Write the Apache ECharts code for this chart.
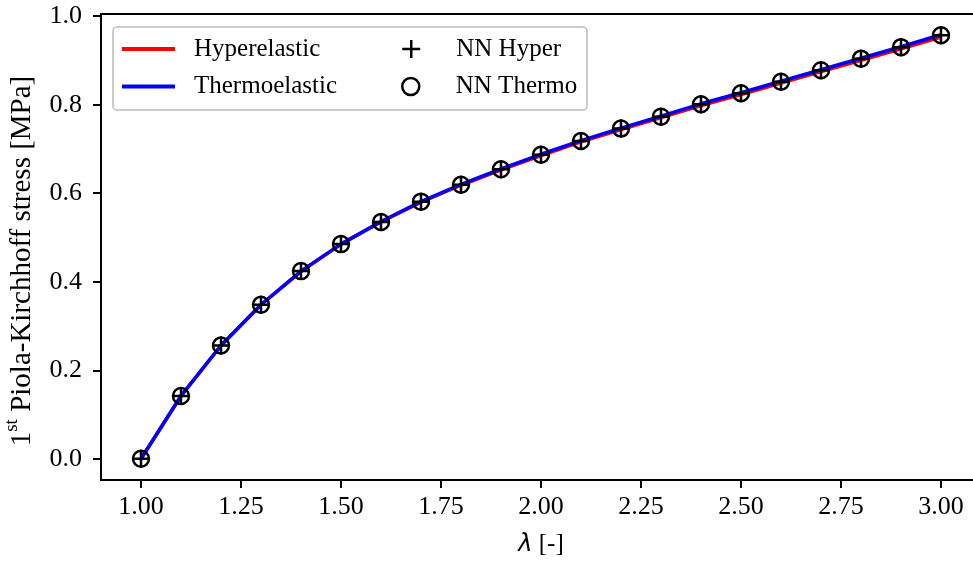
<!DOCTYPE html>
<html>
<head>
<meta charset="utf-8">
<script src="https://cdn.jsdelivr.net/npm/echarts@6/dist/echarts.min.js"></script>
<style>html,body{margin:0;padding:0;background:#fff}#c{width:973px;height:562px}</style>
</head>
<body>
<div id="c"></div>
<script>
const lambda = [1.0,1.1,1.2,1.3,1.4,1.5,1.6,1.7,1.8,1.9,2.0,2.1,2.2,2.3,2.4,2.5,2.6,2.7,2.8,2.9,3.0];
const hyper  = [0,0.142,0.256,0.348,0.423,0.485,0.535,0.580,0.618,0.653,0.685,0.716,0.744,0.771,0.798,0.823,0.849,0.875,0.900,0.926,0.953];
const thermo = [0,0.142,0.256,0.348,0.424,0.485,0.536,0.581,0.620,0.655,0.688,0.719,0.747,0.774,0.802,0.827,0.853,0.879,0.905,0.931,0.958];
const nnHyper  = [0,0.142,0.256,0.348,0.424,0.485,0.535,0.581,0.619,0.654,0.687,0.718,0.746,0.773,0.801,0.826,0.852,0.878,0.904,0.930,0.957];
const nnThermo = [0,0.142,0.256,0.348,0.424,0.485,0.535,0.581,0.619,0.654,0.687,0.718,0.746,0.773,0.801,0.826,0.852,0.878,0.904,0.930,0.957];
const xTicks = [1.00,1.25,1.50,1.75,2.00,2.25,2.50,2.75,3.00];
const yTicks = [0.0,0.2,0.4,0.6,0.8,1.0];

const SERIF = '"Liberation Serif","Times New Roman",serif';
const FS = 25;
const TFS = 26;
const pair = (ys) => lambda.map((x,i)=>[x, ys[i]]);
const plusPath = 'path://M9,0 L9,18 M0,9 L18,9';

const chart = echarts.init(document.getElementById('c'), null, {renderer:'canvas'});
const legendBase = {
  orient:'vertical', padding:0, itemGap:0, selectedMode:false,
  textStyle:{fontFamily:SERIF, fontSize:FS, color:'#000', lineHeight:26}
};
const mk = {color:'rgba(0,0,0,0)', borderColor:'#000', borderWidth:2.5};
chart.setOption({
  animation:false,
  backgroundColor:'#fff',
  grid:{left:101, top:14, width:880, height:466, show:true, borderColor:'#000', borderWidth:2, backgroundColor:'transparent',
    outerBoundsMode:'none', containLabel:false},
  xAxis:{
    type:'value', min:0.9, max:3.1,
    name:'{l|λ}{a| [-]}', nameLocation:'middle', nameGap:52,
    nameTextStyle:{rich:{
      l:{fontFamily:'"DejaVu Sans",sans-serif', fontStyle:'italic', fontSize:24, color:'#000'},
      a:{fontFamily:SERIF, fontSize:FS, color:'#000'}
    }},
    axisLine:{show:true, onZero:false, lineStyle:{color:'#000', width:2}},
    axisTick:{show:true, length:8, lineStyle:{color:'#000', width:2}, customValues:xTicks},
    axisLabel:{fontFamily:SERIF, fontSize:TFS, color:'#000', margin:14, customValues:xTicks, formatter:v=>v.toFixed(2)},
    splitLine:{show:false}
  },
  yAxis:{
    type:'value', min:-0.0479, max:1.0049,
    name:'{n|1}{s|st}{n| Piola-Kirchhoff stress [MPa]}', nameLocation:'middle', nameRotate:90, nameGap:64,
    nameTextStyle:{padding:[0,28,0,0], rich:{
      n:{fontFamily:SERIF, fontSize:29, color:'#000', lineHeight:34, verticalAlign:'bottom'},
      s:{fontFamily:SERIF, fontSize:19, color:'#000', lineHeight:22, verticalAlign:'top'}
    }},
    axisLine:{show:true, onZero:false, lineStyle:{color:'#000', width:2}},
    axisTick:{show:true, length:8, lineStyle:{color:'#000', width:2}, customValues:yTicks},
    axisLabel:{fontFamily:SERIF, fontSize:TFS, color:'#000', margin:19, customValues:yTicks, formatter:v=>v.toFixed(1)},
    splitLine:{show:false}
  },
  legend:[
    Object.assign({}, legendBase, {left:122, top:36, itemWidth:53, itemHeight:4, icon:'rect',
      data:['Hyperelastic'], textStyle:Object.assign({}, legendBase.textStyle, {padding:[0,0,0,14]})}),
    Object.assign({}, legendBase, {left:122, top:73.5, itemWidth:53, itemHeight:4, icon:'rect',
      data:['Thermoelastic'], textStyle:Object.assign({}, legendBase.textStyle, {padding:[0,0,0,14]})}),
    Object.assign({}, legendBase, {left:401, top:36, itemWidth:80, itemHeight:18,
      data:[{name:'NN Hyper', icon:plusPath, itemStyle:mk}]}),
    Object.assign({}, legendBase, {left:401, top:73.5, itemWidth:80, itemHeight:17,
      data:[{name:'NN Thermo', icon:'circle', itemStyle:mk}]})
  ],
  graphic:[{type:'rect', z:3, shape:{x:113, y:27, width:474, height:83, r:4},
    style:{fill:'rgba(255,255,255,0.8)', stroke:'#cccccc', lineWidth:2}}],
  series:[
    {name:'Hyperelastic', type:'line', data:pair(hyper), showSymbol:false, smooth:false,
      lineStyle:{color:'#ff0000', width:3.5}, itemStyle:{color:'#ff0000'}, z:2},
    {name:'Thermoelastic', type:'line', data:pair(thermo), showSymbol:false, smooth:false,
      lineStyle:{color:'#0000ff', width:3.5}, itemStyle:{color:'#0000ff'}, z:3},
    {name:'NN Hyper', type:'scatter', data:pair(nnHyper), symbol:plusPath, symbolSize:18,
      itemStyle:Object.assign({opacity:1}, mk), z:5},
    {name:'NN Thermo', type:'scatter', data:pair(nnThermo), symbol:'circle', symbolSize:16,
      itemStyle:Object.assign({opacity:1}, mk), z:4}
  ]
});
</script>
</body>
</html>
